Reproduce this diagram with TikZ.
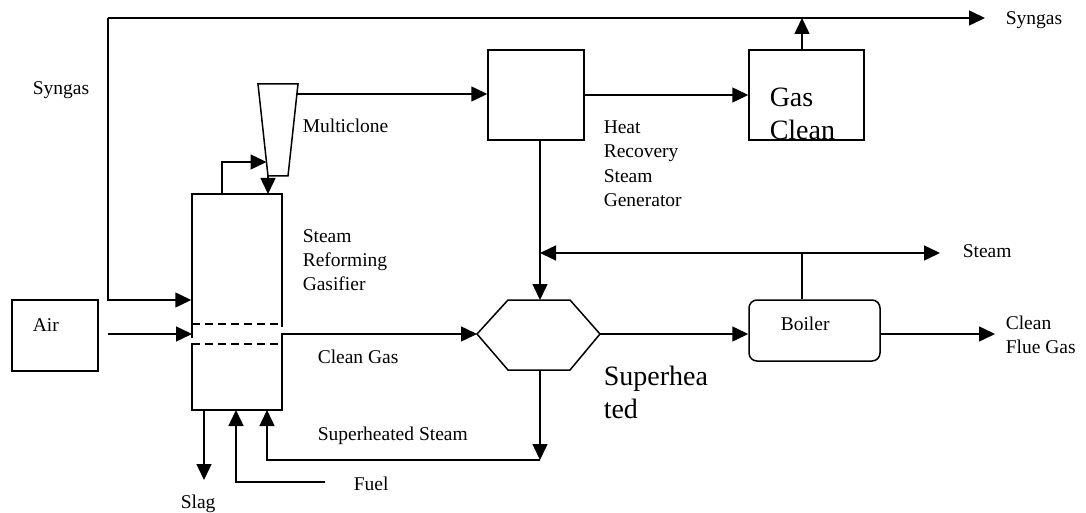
\documentclass[tikz,border=0pt]{standalone}
\usepackage{fontspec}
\setmainfont{Liberation Serif}
\usetikzlibrary{arrows.meta}
\begin{document}
\begin{tikzpicture}[x=1pt,y=-1pt, line width=1.5pt,
  arr/.style={-{Triangle[length=16pt,width=15pt]}},
  box/.style={draw, rectangle, inner sep=0pt},
  lbl/.style={anchor=base west, inner sep=0pt, font=\fontsize{19.5}{24}\selectfont, align=left},
  big/.style={anchor=base west, inner sep=0pt, font=\fontsize{28}{33}\selectfont, align=left},
  dsh/.style={dash pattern=on 8pt off 5pt}]
\useasboundingbox (0,0) rectangle (1086,513);

% ---- units ----
\node[box, minimum width=96pt, minimum height=90pt] (hrsg) at (536,95) {};
\node[box, minimum width=115pt, minimum height=90pt] (clean) at (806.5,95) {};
\node[box, minimum width=86pt, minimum height=71pt] (air) at (55,335.5) {};
\node[box, rounded corners=8pt, minimum width=131pt, minimum height=61pt] (boiler) at (814.5,330.5) {};
\node[rectangle, inner sep=0pt, minimum width=90pt, minimum height=216pt] (gasf) at (237,302) {};

% gasifier outline (with gaps at the dashed band)
\draw (192,338) -- (192,194) -- (282,194) -- (282,327);
\draw (282,333) -- (282,410) -- (192,410) -- (192,343);
\draw[dsh] (192,324) -- (282,324);
\draw[dsh] (192,344) -- (282,344);

% multiclone
\draw (258,84) -- (298,84) -- (288,176) -- (268,176) -- cycle;
\coordinate (mcout) at (297,94);
\coordinate (mcin) at (266.5,162);
\coordinate (mcbot) at (268,176);

% superheater hexagon
\draw (477,334) -- (508,300) -- (570,300) -- (600,334) -- (570,370) -- (508,370) -- cycle;
\coordinate (hexl) at (477,334);
\coordinate (hexr) at (600,334);
\coordinate (hext) at (540,300);
\coordinate (hexb) at (540,370);

% ---- texts (base = baseline of last line) ----
\node[lbl] (tsyn1) at (32,95) {Syngas};
\node[lbl] (tsyn2) at (1005,25) {Syngas};
\node[lbl] (tmc) at (302,133) {Multiclone};
\node[lbl] (thr) at (603,206) {Heat\\Recovery\\Steam\\Generator};
\node[lbl] (tsrg) at (302,290) {Steam\\Reforming\\Gasifier};
\node[lbl] (tair) at (32,331) {Air};
\node[lbl] (tcg) at (317,363) {Clean Gas};
\node[lbl] (tss) at (317,440) {Superheated Steam};
\node[lbl] (tfuel) at (353,490) {Fuel};
\node[lbl] (tslag) at (180,508) {Slag};
\node[lbl] (tsteam) at (962,257) {Steam};
\node[lbl] (tboil) at (780,330) {Boiler};
\node[lbl] (tcfg) at (1005,353) {Clean\\Flue Gas};
\node[big] (tgc) at (769,140) {Gas\\Clean};
\node[big] (tsh) at (603,418) {Superhea\\ted};

% ---- connectors ----
\coordinate (jtl) at (108,18);
\coordinate (jtr) at (985,18);
\draw[arr] (jtl) -- (jtr);
\draw[arr] (jtl) -- (108,300) -- (gasf.west |- 0,300);
\draw[arr] (clean.north -| 802,0) -- (802,18);
\draw[arr] (hrsg.east) -- (clean.west);
\draw[arr] (mcout) -- (mcout -| hrsg.west);
\draw[arr] (222,194) -- (222,162) -- (mcin);
\draw[arr] (mcbot) -- (268,194);
\coordinate (airout) at (108,334);
\draw[arr] (airout) -- (192,334);
\draw[arr] (282,334) -- (hexl);
\draw[arr] (540,140) -- (hext);
\coordinate (jst) at (802,253);
\draw (boiler.north -| jst) -- (jst);
\draw[arr] (jst) -- (540,253);
\draw[arr] (jst) -- (940,253);
\draw[arr] (hexr) -- (boiler.west |- hexr);
\coordinate (cfg) at (995,334);
\draw[arr] (boiler.east |- cfg) -- (cfg);
\coordinate (jss) at (540,460);
\draw[arr] (hexb) -- (jss);
\draw[arr] (jss) -- (267,460) -- (267,410);
\coordinate (fuelin) at (325,482);
\draw[arr] (fuelin) -- (236,482) -- (236,410);
\coordinate (slag) at (204,480);
\draw[arr] (204,410) -- (slag);
\end{tikzpicture}
\end{document}
